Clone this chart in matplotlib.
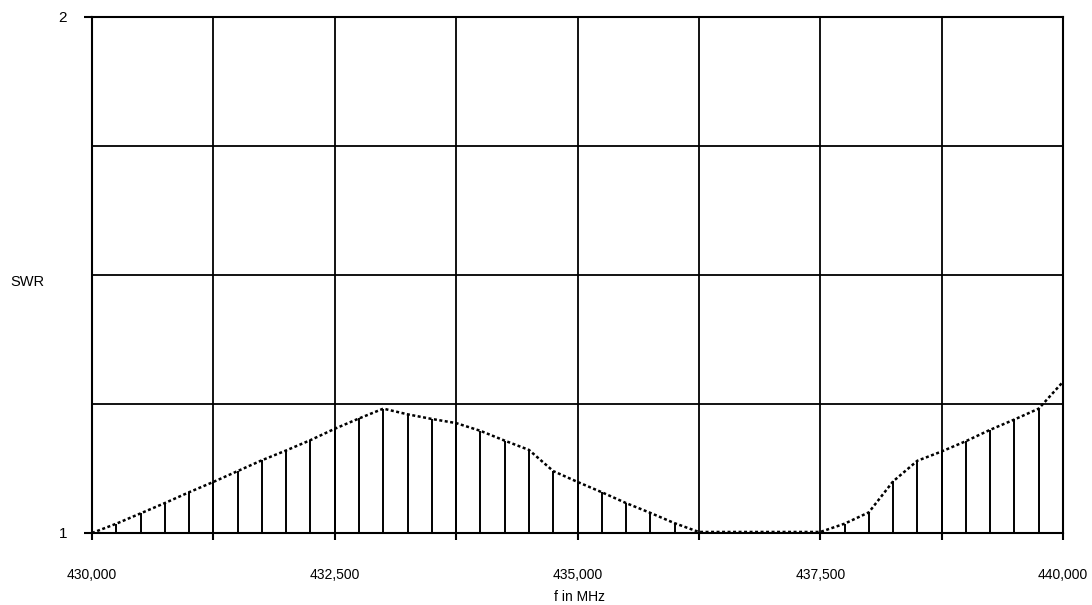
import matplotlib
matplotlib.use("Agg")
import matplotlib.pyplot as plt
from matplotlib.ticker import MultipleLocator

plt.rcParams['font.family'] = ['Liberation Sans', 'DejaVu Sans']

# Data: frequency (MHz) and SWR
freq = [430.00, 430.25, 430.50, 430.75, 431.00, 431.25, 431.50, 431.75,
        432.00, 432.25, 432.50, 432.75, 433.00, 433.25, 433.50, 433.75,
        434.00, 434.25, 434.50, 434.75, 435.00, 435.25, 435.50, 435.75,
        436.00, 436.25, 436.50, 436.75, 437.00, 437.25, 437.50, 437.75,
        438.00, 438.25, 438.50, 438.75, 439.00, 439.25, 439.50, 439.75,
        440.00]
swr = [1.000, 1.018, 1.038, 1.058, 1.079, 1.099, 1.120, 1.141,
       1.160, 1.180, 1.202, 1.222, 1.241, 1.230, 1.221, 1.213,
       1.198, 1.179, 1.161, 1.120, 1.099, 1.079, 1.058, 1.039,
       1.019, 1.002, 1.002, 1.002, 1.002, 1.002, 1.002, 1.018,
       1.040, 1.100, 1.140, 1.158, 1.178, 1.200, 1.220, 1.241,
       1.293]

x_ticks = [430.0, 432.5, 435.0, 437.5, 440.0]
x_tick_labels = ["430,000", "432,500", "435,000", "437,500", "440,000"]
y_ticks = [1, 2]
y_tick_labels = ["1", "2"]

W, H = 1092, 605
fig = plt.figure(figsize=(W / 100, H / 100), dpi=100)
fig.patch.set_facecolor('white')
left, right, top, bottom = 92, 1063, 17, 533
ax = fig.add_axes([left / W, (H - bottom) / H, (right - left) / W, (bottom - top) / H])

ax.set_xlim(430, 440)
ax.set_ylim(1, 2)

# grid
ax.xaxis.set_minor_locator(MultipleLocator(1.25))
ax.yaxis.set_minor_locator(MultipleLocator(0.25))
ax.grid(True, which='both', color='black', linewidth=1.3)
ax.set_axisbelow(True)

# stems and dotted curve
ax.vlines(freq, 1, swr, colors='black', linewidth=1.4, zorder=3)
ax.plot(freq, swr, color='black', linewidth=1.8, linestyle=(0, (1.2, 1.0)), zorder=4,
        clip_on=False)

for s in ax.spines.values():
    s.set_linewidth(1.5)
    s.set_color('black')

ax.set_xticks(x_ticks)
ax.set_xticklabels(x_tick_labels, fontsize=10)
ax.set_yticks(y_ticks)
ax.set_yticklabels(y_tick_labels, fontsize=11)
ax.tick_params(axis='x', which='both', direction='out', length=5, width=1.5, pad=20)
ax.tick_params(axis='x', which='minor', labelbottom=False)
ax.tick_params(axis='y', which='major', direction='out', length=6, width=1.5, pad=12)
ax.tick_params(axis='y', which='minor', length=0)

fig.text(10 / W, 1 - 282 / H, "SWR", fontsize=10.5, ha='left', va='center')
fig.text(579 / W, 1 - 597 / H, "f in MHz", fontsize=10, ha='center', va='center')

fig.savefig("out.png", dpi=100, facecolor='white')
